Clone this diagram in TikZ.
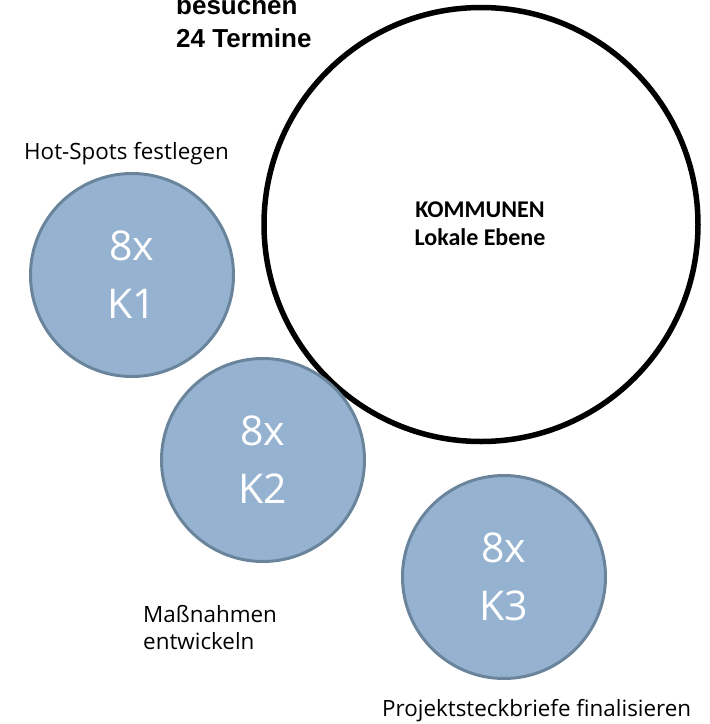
\documentclass[tikz,border=0pt]{standalone}
\usepackage{fontspec}
\setmainfont{Open Sans}
\newfontfamily\headfont{Liberation Sans}
\newfontfamily\levelfont{Carlito}
\definecolor{stepfill}{HTML}{95B3D1}
\definecolor{stepedge}{HTML}{6A849C}
\begin{document}
\begin{tikzpicture}[x=1pt,y=-1pt,
  bigring/.style={circle,draw=black,line width=5.5pt,fill=white,minimum size=434pt,inner sep=0pt},
  stepdisc/.style={circle,draw=stepedge,fill=stepfill,line width=3pt,minimum size=203pt,inner sep=0pt,
    text=white,align=center,font=\fontsize{41}{58}\selectfont},
  caption/.style={inner sep=0pt,anchor=base west,font=\fontsize{22.4}{27}\selectfont,align=left},
]
\useasboundingbox (0,0) rectangle (710,724);

% the municipal level
\node[bigring] (kommunen) at (481,224.5) {};
\node[inner sep=0pt,align=center,font=\levelfont\bfseries\fontsize{24}{28}\selectfont,anchor=base]
  (ebene) at (480,245) {KOMMUNEN\\Lokale Ebene};

% heading at the top (its first line runs off the page)
\node[inner sep=0pt,anchor=base west,align=left,font=\headfont\bfseries\fontsize{26}{33}\selectfont]
  (termine) at (176,47) {besuchen\\24 Termine};

% the three workshop rounds
\node[stepdisc] (k1) at (132,275) {8x\\K1};
\node[stepdisc] (k2) at (263,460) {8x\\K2};
\node[stepdisc] (k3) at (504,577) {8x\\K3};

% what happens in each round
\node[caption] (l1) at (24,159) {Hot-Spots festlegen};
\node[caption] (l2) at (143,649) {Maßnahmen\\entwickeln};
\node[caption] (l3) at (382,716) {Projektsteckbriefe finalisieren};
\end{tikzpicture}
\end{document}
